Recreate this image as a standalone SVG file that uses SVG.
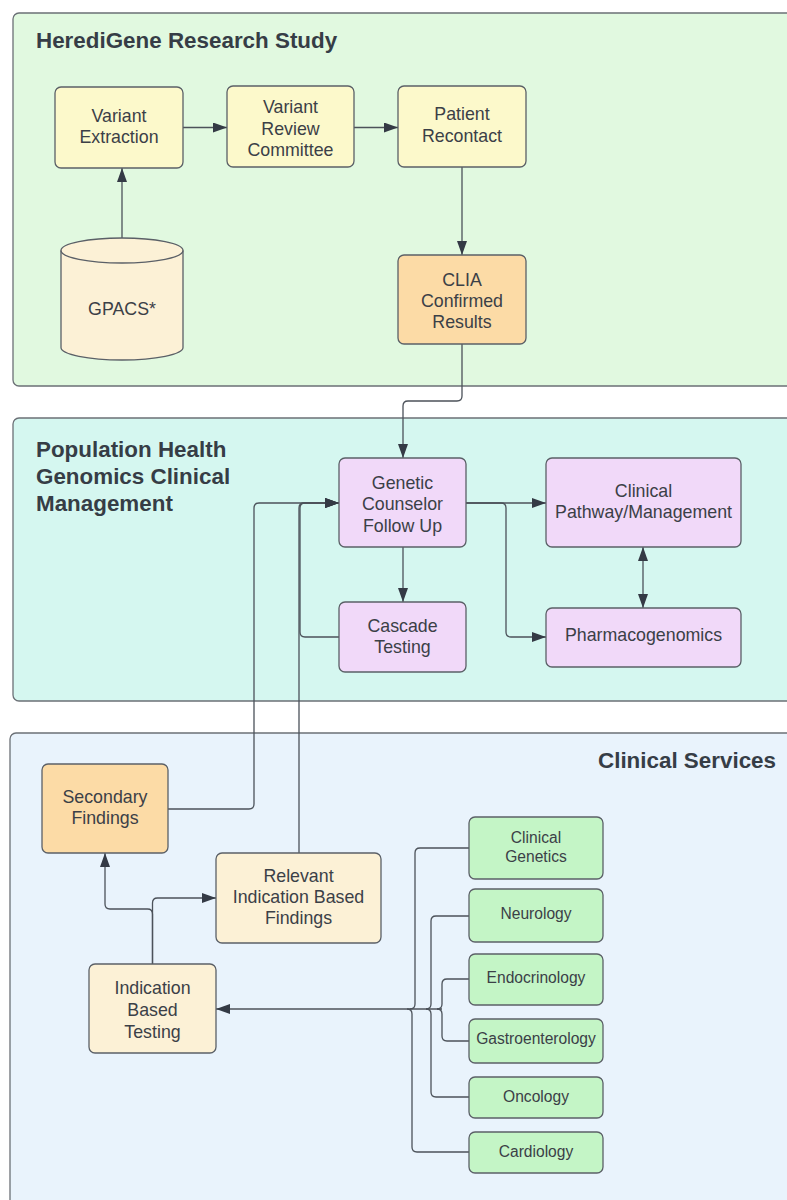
<svg xmlns="http://www.w3.org/2000/svg" width="787" height="1200" viewBox="0 0 787 1200">
<style>
.cont{stroke:#6b7076;stroke-width:1.3}
.node{stroke:#5b6067;stroke-width:1.3}
.yel{fill:#fcf9cb}
.ora{fill:#fcdba6}
.crm{fill:#fcf1d6}
.pur{fill:#f1d9f9}
.grn{fill:#c4f5c6}
.t{font-family:"Liberation Sans",Arial,sans-serif;font-size:17.8px;fill:#3b4047;text-anchor:middle}
.ts{font-family:"Liberation Sans",Arial,sans-serif;font-size:15.6px;fill:#3b4047;text-anchor:middle}
.h{font-family:"Liberation Sans",Arial,sans-serif;font-size:22.4px;font-weight:bold;fill:#363d46}
.c{fill:none;stroke:#4c525a;stroke-width:1.3}
</style>
<defs>
<marker id="ah" markerUnits="userSpaceOnUse" markerWidth="15" markerHeight="11" refX="14" refY="5" orient="auto-start-reverse">
<path d="M0,0 L14,5 L0,10 z" fill="#343a45"/>
</marker>
</defs>
<rect width="787" height="1200" fill="#ffffff"/>
<g id="containers">
<g id="research"><rect class="cont" x="13" y="13" width="790" height="373" rx="6" fill="#e1f9e0"/><text class="h" x="36" y="48">HerediGene Research Study</text></g>
<g id="population"><rect class="cont" x="13" y="418" width="790" height="283" rx="6" fill="#d5f7f0"/><text class="h" x="36" y="457">Population Health</text><text class="h" x="36" y="484">Genomics Clinical</text><text class="h" x="36" y="511">Management</text></g>
<g id="clinical"><rect class="cont" x="10" y="733" width="793" height="480" rx="6" fill="#e9f3fc"/><text class="h" x="776" y="768" text-anchor="end">Clinical Services</text></g>
</g>
<g id="connectors">
<path class="c" d="M122,238 V168" marker-end="url(#ah)"/>
<path class="c" d="M183,127.5 H227" marker-end="url(#ah)"/>
<path class="c" d="M354,127.5 H398" marker-end="url(#ah)"/>
<path class="c" d="M462,167 V255" marker-end="url(#ah)"/>
<path class="c" d="M462,344 V396 Q462,401 457,401 H408 Q403,401 403,406 V458" marker-end="url(#ah)"/>
<path class="c" d="M466,503 H546" marker-end="url(#ah)"/>
<path class="c" d="M466,503 H501 Q506,503 506,508 V632 Q506,637 511,637 H546" marker-end="url(#ah)"/>
<path class="c" d="M403,547 V602" marker-end="url(#ah)"/>
<path class="c" d="M643,547 V608" marker-start="url(#ah)" marker-end="url(#ah)"/>
<path class="c" d="M339,637 H305 Q300,637 300,632 V508 Q300,503 305,503 H339" marker-end="url(#ah)"/>
<path class="c" d="M299,853 V508 Q299,503 304,503 H339" marker-end="url(#ah)"/>
<path class="c" d="M168,809 H249 Q254,809 254,804 V508 Q254,503 259,503 H339" marker-end="url(#ah)"/>
<path class="c" d="M152.5,964 V914 Q152.5,909 147.5,909 H110 Q105,909 105,904 V853" marker-end="url(#ah)"/>
<path class="c" d="M152.5,964 V903 Q152.5,898 157.5,898 H216" marker-end="url(#ah)"/>
<path class="c" d="M442,1009 H216" marker-end="url(#ah)"/>
<path class="c" d="M469,848 H420 Q415,848 415,853 V1004 Q415,1009 410,1009"/>
<path class="c" d="M469,916 H436 Q431,916 431,921 V1004 Q431,1009 426,1009"/>
<path class="c" d="M469,979 H447 Q442,979 442,984 V1004 Q442,1009 437,1009"/>
<path class="c" d="M469,1041 H447 Q442,1041 442,1036 V1014 Q442,1009 437,1009"/>
<path class="c" d="M469,1097 H436 Q431,1097 431,1092 V1014 Q431,1009 426,1009"/>
<path class="c" d="M469,1152 H417 Q412,1152 412,1147 V1014 Q412,1009 407,1009"/>
</g>
<g id="variant-extraction"><rect class="node yel" x="55" y="87" width="128" height="81" rx="6"/><text class="t" x="119" y="122">Variant</text><text class="t" x="119" y="143">Extraction</text></g>
<g id="variant-review"><rect class="node yel" x="227" y="86" width="127" height="81" rx="6"/><text class="t" x="290.5" y="113">Variant</text><text class="t" x="290.5" y="135">Review</text><text class="t" x="290.5" y="156">Committee</text></g>
<g id="patient-recontact"><rect class="node yel" x="398" y="86" width="128" height="81" rx="6"/><text class="t" x="462" y="120">Patient</text><text class="t" x="462" y="142">Recontact</text></g>
<g id="clia"><rect class="node ora" x="398" y="255" width="128" height="89" rx="6"/><text class="t" x="462" y="286">CLIA</text><text class="t" x="462" y="307">Confirmed</text><text class="t" x="462" y="328">Results</text></g>
<g id="gpacs"><path class="node crm" d="M61,250.5 A61,12.5 0 0 1 183,250.5 V347.5 A61,12.5 0 0 1 61,347.5 Z"/><path class="node" fill="none" d="M61,250.5 A61,12.5 0 0 0 183,250.5"/><text class="t" x="122" y="315">GPACS*</text></g>
<g id="genetic-counselor"><rect class="node pur" x="339" y="458" width="127" height="89" rx="6"/><text class="t" x="402.5" y="489">Genetic</text><text class="t" x="402.5" y="510">Counselor</text><text class="t" x="402.5" y="532">Follow Up</text></g>
<g id="cascade"><rect class="node pur" x="339" y="602" width="127" height="70" rx="6"/><text class="t" x="402.5" y="632">Cascade</text><text class="t" x="402.5" y="653">Testing</text></g>
<g id="clinical-pathway"><rect class="node pur" x="546" y="458" width="195" height="89" rx="6"/><text class="t" x="643.5" y="497">Clinical</text><text class="t" x="643.5" y="518">Pathway/Management</text></g>
<g id="pharmacogenomics"><rect class="node pur" x="546" y="608" width="195" height="59" rx="6"/><text class="t" x="643.5" y="641">Pharmacogenomics</text></g>
<g id="secondary"><rect class="node ora" x="42" y="764" width="126" height="89" rx="6"/><text class="t" x="105" y="803">Secondary</text><text class="t" x="105" y="824">Findings</text></g>
<g id="relevant"><rect class="node crm" x="216" y="853" width="165" height="90" rx="6"/><text class="t" x="298.5" y="882">Relevant</text><text class="t" x="298.5" y="903">Indication Based</text><text class="t" x="298.5" y="924">Findings</text></g>
<g id="indication"><rect class="node crm" x="89" y="964" width="127" height="89" rx="6"/><text class="t" x="152.5" y="994">Indication</text><text class="t" x="152.5" y="1016">Based</text><text class="t" x="152.5" y="1038">Testing</text></g>
<g id="clinical-genetics"><rect class="node grn" x="469" y="817" width="134" height="62" rx="6"/><text class="ts" x="536" y="843">Clinical</text><text class="ts" x="536" y="862">Genetics</text></g>
<g id="neurology"><rect class="node grn" x="469" y="889" width="134" height="53" rx="6"/><text class="ts" x="536" y="919">Neurology</text></g>
<g id="endocrinology"><rect class="node grn" x="469" y="954" width="134" height="51" rx="6"/><text class="ts" x="536" y="983">Endocrinology</text></g>
<g id="gastroenterology"><rect class="node grn" x="469" y="1019" width="134" height="44" rx="6"/><text class="ts" x="536" y="1044">Gastroenterology</text></g>
<g id="oncology"><rect class="node grn" x="469" y="1077" width="134" height="41" rx="6"/><text class="ts" x="536" y="1102">Oncology</text></g>
<g id="cardiology"><rect class="node grn" x="469" y="1132" width="134" height="41" rx="6"/><text class="ts" x="536" y="1157">Cardiology</text></g>
</svg>
